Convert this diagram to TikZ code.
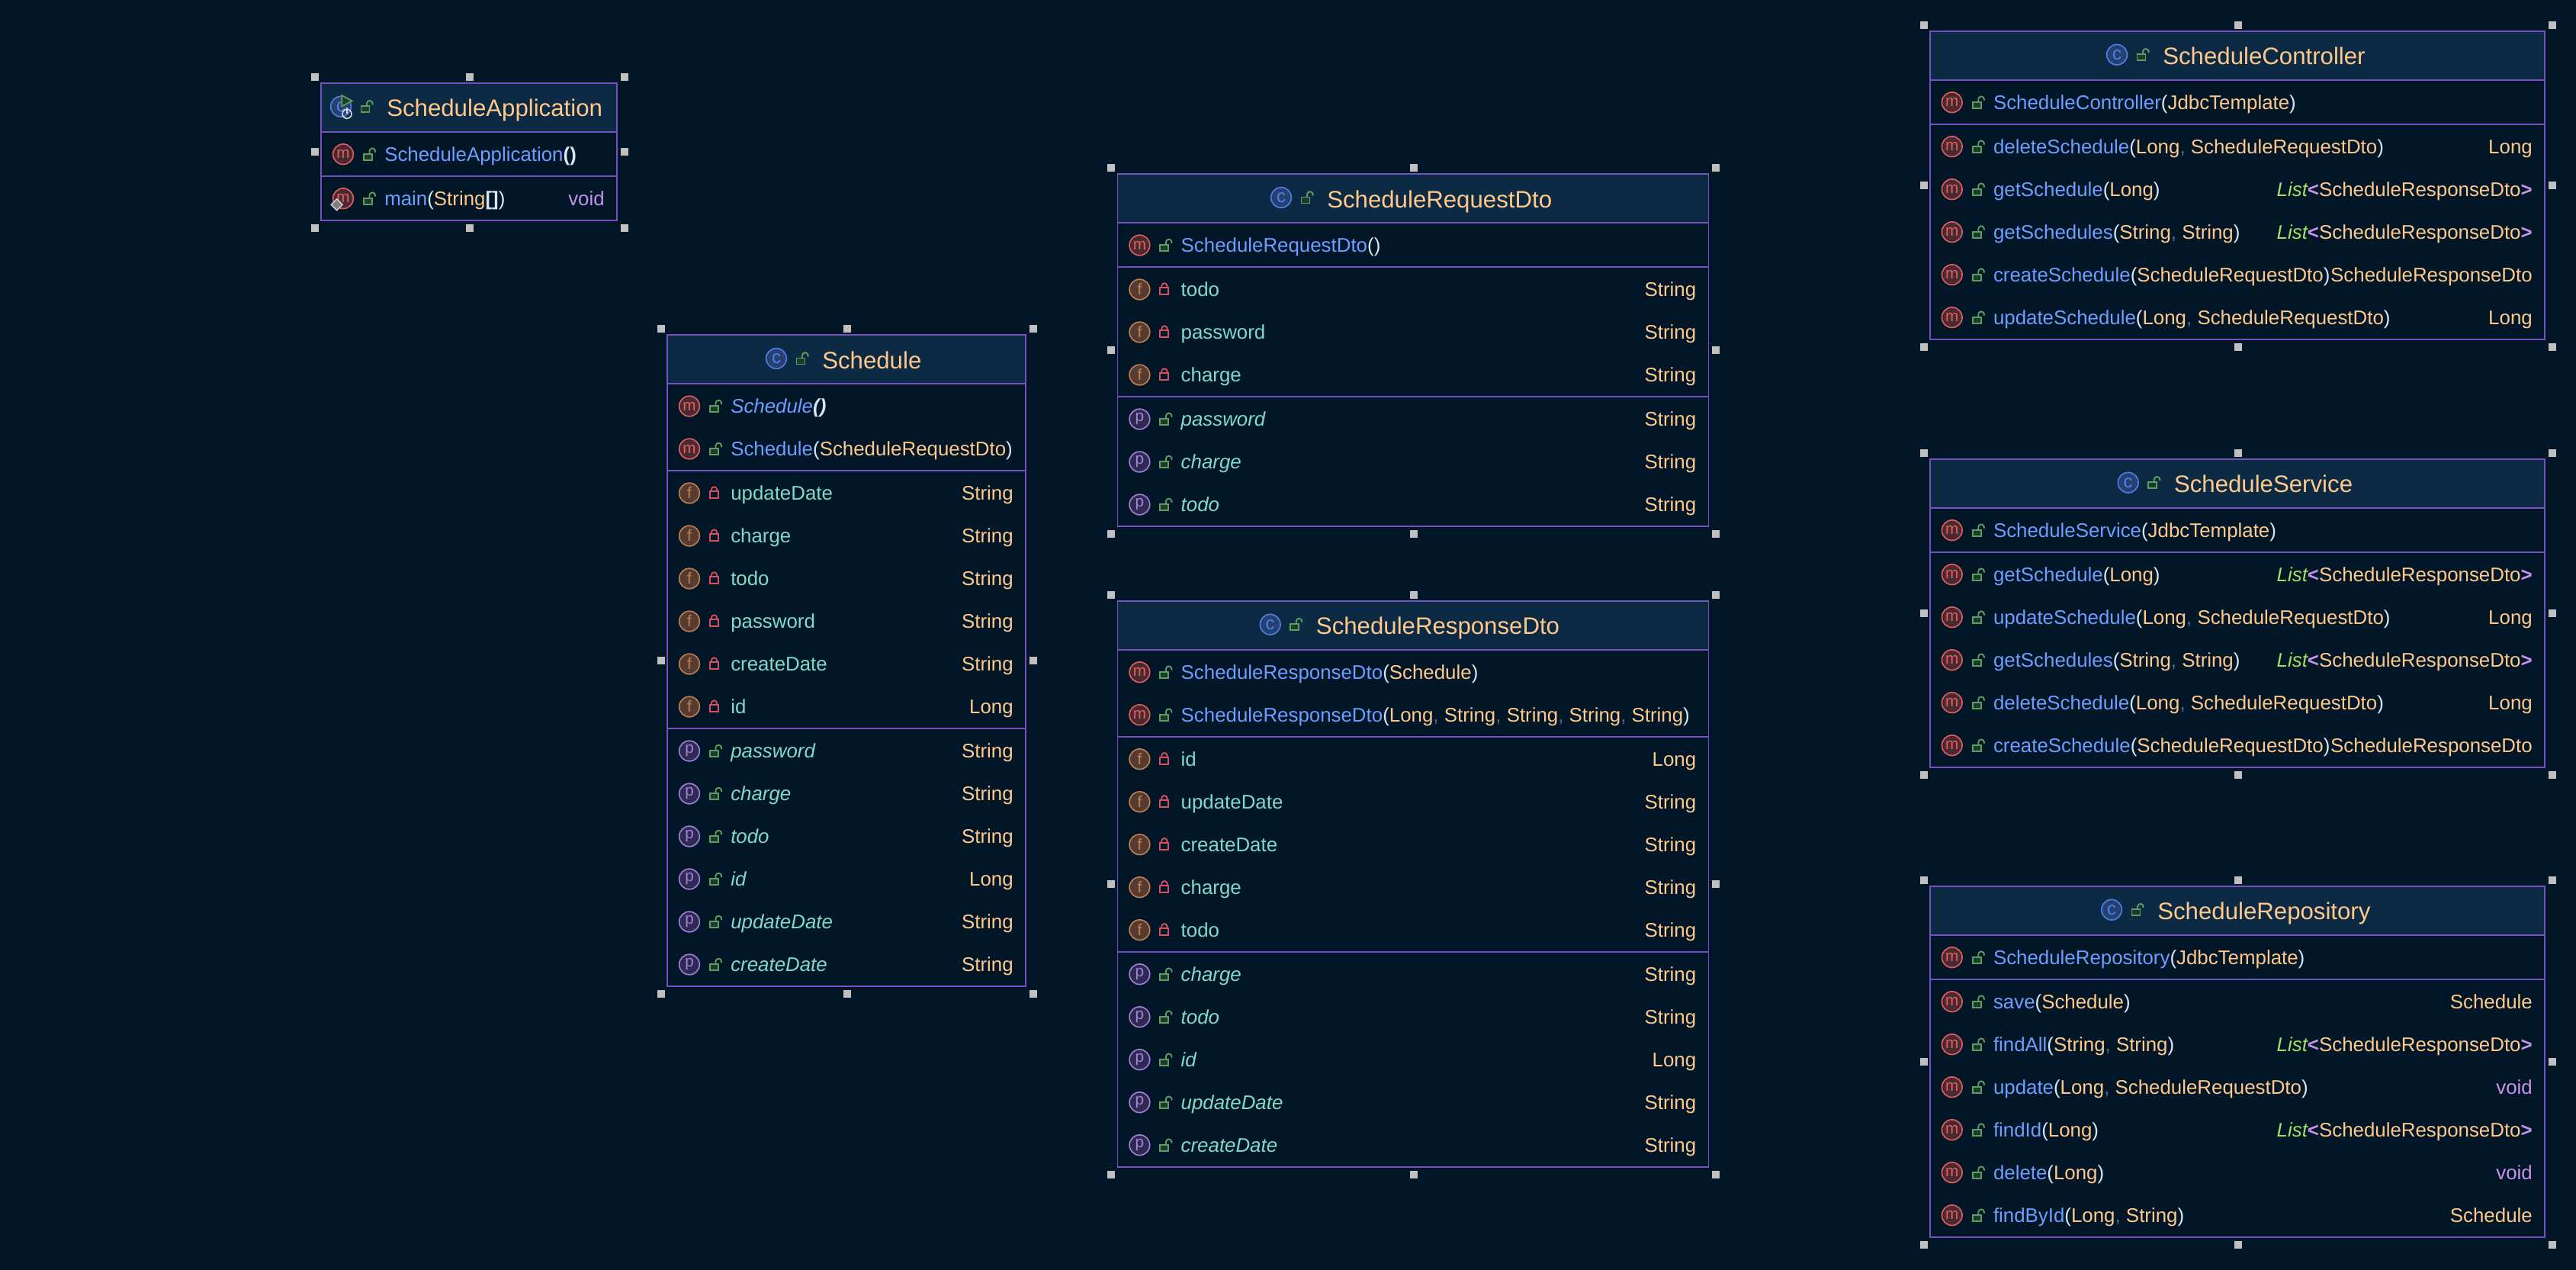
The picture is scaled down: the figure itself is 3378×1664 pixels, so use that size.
\documentclass[tikz,border=0pt]{standalone}
\usepackage{fontspec}
\setmainfont{Liberation Sans}
\definecolor{bgnight}{HTML}{011627}
\definecolor{headblue}{HTML}{0D2A45}
\definecolor{borderpurple}{HTML}{7650BE}
\definecolor{methodblue}{HTML}{6E9EFF}
\definecolor{fieldteal}{HTML}{7FDBCA}
\definecolor{typeorange}{HTML}{FFC98B}
\definecolor{punctlight}{HTML}{D6E6F5}
\definecolor{commagrey}{HTML}{4F6F8F}
\definecolor{listgreen}{HTML}{A6E05F}
\definecolor{genpurple}{HTML}{C792EA}
\definecolor{handlegrey}{HTML}{C0C0C0}
\definecolor{mline}{HTML}{E0605C}
\definecolor{mfill}{HTML}{4A2A30}
\definecolor{fline}{HTML}{C47F50}
\definecolor{ffill}{HTML}{553B30}
\definecolor{pline}{HTML}{A57FDC}
\definecolor{pfill}{HTML}{2E2A52}
\definecolor{cline}{HTML}{4C80E8}
\definecolor{cfill}{HTML}{27406F}
\definecolor{lockgreen}{HTML}{5C9E5E}
\definecolor{lockgreenfill}{HTML}{1E3A2E}
\definecolor{lockred}{HTML}{D9505C}
\newcommand{\mthd}[1]{\textcolor{methodblue}{#1}}
\newcommand{\fld}[1]{\textcolor{fieldteal}{#1}}
\newcommand{\typ}[1]{\textcolor{typeorange}{#1}}
\newcommand{\pa}[1]{\textcolor{punctlight}{#1}}
\newcommand{\cm}{\textcolor{commagrey}{,}\ }
\newcommand{\call}[2]{\mthd{#1}\pa{(}\typ{#2}\pa{)}}
\newcommand{\voidRet}{\textcolor{genpurple}{void}}
\newcommand{\listDto}{\textit{\textcolor{listgreen}{List}}\textbf{\textcolor{genpurple}{<}}\typ{ScheduleResponseDto}\textbf{\textcolor{genpurple}{>}}}
\tikzset{
  handle/.style = {fill = handlegrey, minimum size = 7.5pt, inner sep = 0pt},
  rowtext/.style = {inner sep = 0pt, font = \fontsize{19.4}{24}\selectfont},
  titletext/.style = {inner sep = 0pt, text = typeorange, font = \fontsize{23.4}{28}\selectfont},
  icon/.style = {circle, draw, line width = 1.2pt, minimum size = 20pt, inner sep = 0pt, font = \fontsize{15.5}{15.5}\selectfont},
  iconm/.style = {icon, draw = mline, fill = mfill, text = mline},
  iconf/.style = {icon, draw = fline, fill = ffill, text = fline},
  iconp/.style = {icon, draw = pline, fill = pfill, text = pline},
  iconc/.style = {icon, draw = cline, fill = cfill, text = cline, font = \fontsize{18}{18}\selectfont},
  openlock/.style = {draw = lockgreen, line width = 1.4pt},
  shutlock/.style = {draw = lockred, line width = 1.4pt}
}
\newcommand{\tikzPlaceOpenLock}[1]{
  \draw[openlock, fill = lockgreenfill] #1 ++(-5.5,-0.5) rectangle ++(11,8);
  \draw[openlock] #1 ++(2,-0.5) -- ++(0,-3.5) arc (180:360:3.8) -- ++(0,1.5)
}
\newcommand{\tikzPlaceShutLock}[1]{
  \draw[shutlock, fill = bgnight] #1 ++(-5.5,-2.5) rectangle ++(11,9);
  \draw[shutlock] #1 ++(-3.7,-2.5) -- ++(0,-2) arc (180:360:3.7) -- ++(0,2)
}
\newcommand{\tikzClassBox}[5]{
  \def\boxW{#2}
  \def\boxH{#3}
  \fill[bgnight] (0,0) rectangle (#2,#3);
  \fill[headblue] (0,0) rectangle (#2,64);
  \draw[borderpurple, line width = 1.2pt] (0,0) rectangle (#2,#3);
  \node[iconc] (#1-icon) at (#4-60,31) {c};
  \tikzPlaceOpenLock{(#4-28,31)};
  \node[titletext, anchor = base west] (#1-title) at (#4,44) {#5};
  \foreach \hx/\hy [count = \i] in {-8/-8, {\boxW/2+1}/-8, {\boxW+10}/-8, -8/{\boxH/2}, {\boxW+10}/{\boxH/2}, -8/{\boxH+10}, {\boxW/2+1}/{\boxH+10}, {\boxW+10}/{\boxH+10}}
    \node[handle] (#1-h\i) at (\hx,\hy) {};
}
\newcommand{\tikzMembers}[4]{
  \draw[borderpurple, line width = 1.2pt] (0,#3) -- (\boxW,#3);
  \foreach \kind/\lck/\lhs/\rhs [count = \i] in {#4}{
    \pgfmathsetmacro{\rowy}{#3+29.5+56*(\i-1)}
    \node[icon\kind] (#1-#2-\i-icon) at (29,\rowy) {\kind};
    \csname tikzPlace\lck Lock\endcsname{(61.5,\rowy)};
    \node[rowtext, anchor = base west] (#1-#2-\i-name) at (83,\rowy+9) {\lhs};
    \ifx\rhs\empty\else
      \node[rowtext, anchor = base east] (#1-#2-\i-type) at (\boxW-16,\rowy+9) {\rhs};
    \fi
  }
}
\begin{document}
\begin{tikzpicture}[x = 0.75pt, y = -0.75pt]
  \useasboundingbox (0,0) rectangle (3378,1664);
  \fill[bgnight] (-4,-4) rectangle (3382,1668);

  \begin{scope}[shift = {(421,108.7)}]
    \tikzClassBox{app}{388}{180}{86}{ScheduleApplication}
    \tikzMembers{app}{ctor}{64}{
      m/Open/{\mthd{ScheduleApplication}\pa{\textbf{()}}}/{}}
    \tikzMembers{app}{main}{122}{
      m/Open/{\mthd{main}\pa{(}\typ{String}\pa{\textbf{[]})}}/{\voidRet}}
    \draw[lockgreen, fill = lockgreenfill, line width = 1.3pt] (27.3,16.3) -- (27.3,30.6) -- (40.7,23.6) -- cycle;
    \draw[black!15, line width = 1.2pt] (34,40.6) circle (6);
    \draw[black!15, line width = 1.2pt] (34,32.6) -- (34,40);
    \draw[black!15, fill = black!50, line width = 1pt] (13.2,159.6) -- (20.7,152.1) -- (28.2,159.6) -- (20.7,167.1) -- cycle;
  \end{scope}

  \begin{scope}[shift = {(875,439)}]
    \tikzClassBox{sched}{470}{854}{203}{Schedule}
    \tikzMembers{sched}{ctor}{64}{
      m/Open/{\textit{\mthd{Schedule}\pa{\textbf{()}}}}/{},
      m/Open/{\call{Schedule}{ScheduleRequestDto}}/{}}
    \tikzMembers{sched}{field}{178}{
      f/Shut/{\fld{updateDate}}/{\typ{String}},
      f/Shut/{\fld{charge}}/{\typ{String}},
      f/Shut/{\fld{todo}}/{\typ{String}},
      f/Shut/{\fld{password}}/{\typ{String}},
      f/Shut/{\fld{createDate}}/{\typ{String}},
      f/Shut/{\fld{id}}/{\typ{Long}}}
    \tikzMembers{sched}{prop}{516}{
      p/Open/{\textit{\fld{password}}}/{\typ{String}},
      p/Open/{\textit{\fld{charge}}}/{\typ{String}},
      p/Open/{\textit{\fld{todo}}}/{\typ{String}},
      p/Open/{\textit{\fld{id}}}/{\typ{Long}},
      p/Open/{\textit{\fld{updateDate}}}/{\typ{String}},
      p/Open/{\textit{\fld{createDate}}}/{\typ{String}}}
  \end{scope}

  \begin{scope}[shift = {(1465.4,228)}]
    \tikzClassBox{req}{775}{462}{274.6}{ScheduleRequestDto}
    \tikzMembers{req}{ctor}{64}{
      m/Open/{\mthd{ScheduleRequestDto}\pa{()}}/{}}
    \tikzMembers{req}{field}{122}{
      f/Shut/{\fld{todo}}/{\typ{String}},
      f/Shut/{\fld{password}}/{\typ{String}},
      f/Shut/{\fld{charge}}/{\typ{String}}}
    \tikzMembers{req}{prop}{292}{
      p/Open/{\textit{\fld{password}}}/{\typ{String}},
      p/Open/{\textit{\fld{charge}}}/{\typ{String}},
      p/Open/{\textit{\fld{todo}}}/{\typ{String}}}
  \end{scope}

  \begin{scope}[shift = {(1465.4,787.7)}]
    \tikzClassBox{resp}{775}{742}{260.3}{ScheduleResponseDto}
    \tikzMembers{resp}{ctor}{64}{
      m/Open/{\call{ScheduleResponseDto}{Schedule}}/{},
      m/Open/{\call{ScheduleResponseDto}{Long\cm String\cm String\cm String\cm String}}/{}}
    \tikzMembers{resp}{field}{178}{
      f/Shut/{\fld{id}}/{\typ{Long}},
      f/Shut/{\fld{updateDate}}/{\typ{String}},
      f/Shut/{\fld{createDate}}/{\typ{String}},
      f/Shut/{\fld{charge}}/{\typ{String}},
      f/Shut/{\fld{todo}}/{\typ{String}}}
    \tikzMembers{resp}{prop}{460}{
      p/Open/{\textit{\fld{charge}}}/{\typ{String}},
      p/Open/{\textit{\fld{todo}}}/{\typ{String}},
      p/Open/{\textit{\fld{id}}}/{\typ{Long}},
      p/Open/{\textit{\fld{updateDate}}}/{\typ{String}},
      p/Open/{\textit{\fld{createDate}}}/{\typ{String}}}
  \end{scope}

  \begin{scope}[shift = {(2530.7,40.7)}]
    \tikzClassBox{ctrl}{806.3}{404}{305.3}{ScheduleController}
    \tikzMembers{ctrl}{ctor}{64}{
      m/Open/{\call{ScheduleController}{JdbcTemplate}}/{}}
    \tikzMembers{ctrl}{meth}{122}{
      m/Open/{\call{deleteSchedule}{Long\cm ScheduleRequestDto}}/{\typ{Long}},
      m/Open/{\call{getSchedule}{Long}}/{\listDto},
      m/Open/{\call{getSchedules}{String\cm String}}/{\listDto},
      m/Open/{\call{createSchedule}{ScheduleRequestDto}}/{\typ{ScheduleResponseDto}},
      m/Open/{\call{updateSchedule}{Long\cm ScheduleRequestDto}}/{\typ{Long}}}
  \end{scope}

  \begin{scope}[shift = {(2530.7,601.7)}]
    \tikzClassBox{serv}{806.3}{404}{320}{ScheduleService}
    \tikzMembers{serv}{ctor}{64}{
      m/Open/{\call{ScheduleService}{JdbcTemplate}}/{}}
    \tikzMembers{serv}{meth}{122}{
      m/Open/{\call{getSchedule}{Long}}/{\listDto},
      m/Open/{\call{updateSchedule}{Long\cm ScheduleRequestDto}}/{\typ{Long}},
      m/Open/{\call{getSchedules}{String\cm String}}/{\listDto},
      m/Open/{\call{deleteSchedule}{Long\cm ScheduleRequestDto}}/{\typ{Long}},
      m/Open/{\call{createSchedule}{ScheduleRequestDto}}/{\typ{ScheduleResponseDto}}}
  \end{scope}

  \begin{scope}[shift = {(2530.7,1161.7)}]
    \tikzClassBox{repo}{806.3}{460}{298.3}{ScheduleRepository}
    \tikzMembers{repo}{ctor}{64}{
      m/Open/{\call{ScheduleRepository}{JdbcTemplate}}/{}}
    \tikzMembers{repo}{meth}{122}{
      m/Open/{\call{save}{Schedule}}/{\typ{Schedule}},
      m/Open/{\call{findAll}{String\cm String}}/{\listDto},
      m/Open/{\call{update}{Long\cm ScheduleRequestDto}}/{\voidRet},
      m/Open/{\call{findId}{Long}}/{\listDto},
      m/Open/{\call{delete}{Long}}/{\voidRet},
      m/Open/{\call{findById}{Long\cm String}}/{\typ{Schedule}}}
  \end{scope}
\end{tikzpicture}
\end{document}
